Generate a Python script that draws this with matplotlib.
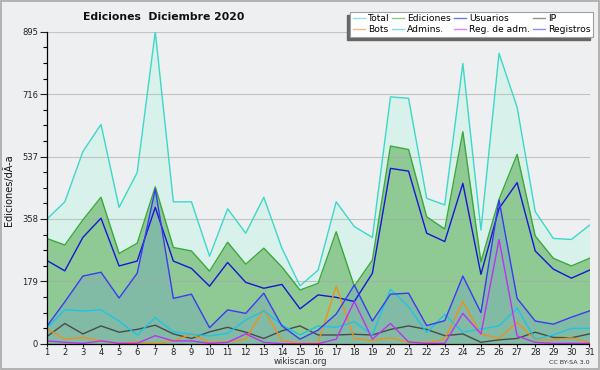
#!/usr/bin/env python3

import numpy as np
import matplotlib
matplotlib.use('Agg')
import matplotlib.pyplot as plt
from matplotlib.patches import Rectangle

#------------------------------------------------------------------------
# values, one per day of december 2020

days = list(range(1, 32))
total = [357, 407, 551, 629, 391, 491, 895, 407, 407, 251, 387, 317, 420, 274, 166, 211,
         407, 336, 305, 708, 704, 417, 398, 804, 326, 833, 678, 379, 302, 299, 340]
ediciones = [302, 283, 355, 420, 259, 288, 450, 276, 266, 208, 291, 228, 274, 220, 154, 173,
             321, 165, 240, 567, 557, 364, 329, 608, 235, 414, 543, 309, 245, 223, 245]
usuarios = [239, 209, 305, 360, 223, 237, 391, 237, 216, 165, 233, 176, 159, 170, 100, 140,
            133, 121, 202, 503, 495, 317, 293, 460, 199, 388, 462, 266, 214, 188, 211]
ip = [20, 58, 28, 51, 33, 41, 53, 28, 15, 34, 47, 33, 15, 37, 51, 25,
      25, 27, 25, 41, 51, 41, 23, 28, 4, 11, 15, 33, 18, 17, 28]
bots = [44, 13, 18, 8, 1, 5, 1, 8, 27, 4, 5, 13, 99, 8, 2, 2,
        165, 15, 9, 17, 4, 3, 13, 121, 28, 15, 61, 11, 11, 17, 3]
admins = [44, 97, 94, 97, 65, 25, 75, 34, 27, 22, 30, 68, 94, 54, 25, 51,
          47, 63, 25, 156, 106, 32, 84, 33, 42, 51, 102, 13, 25, 44, 44]
reg_adm = [8, 4, 1, 8, 1, 1, 23, 8, 8, 1, 4, 28, 4, 0, 0, 0,
           13, 121, 13, 58, 5, 1, 1, 87, 28, 299, 22, 4, 1, 1, 1]
registros = [49, 120, 194, 205, 131, 202, 443, 130, 142, 46, 97, 87, 145, 51, 13, 39,
             85, 168, 65, 142, 145, 52, 66, 194, 89, 412, 130, 65, 56, 76, 94]

y_major = [0, 179, 358, 537, 716, 895]

#------------------------------------------------------------------------

bg = '#eeeff1'
W, H = 600, 370

fig = plt.figure(figsize=(W / 100, H / 100), dpi=100, facecolor=bg)
ax = fig.add_axes([46.7 / W, 1 - 343.7 / H, (589.5 - 46.7) / W, (343.7 - 31.7) / H])
ax.set_facecolor(bg)

# filled areas
ax.fill_between(days, 0, total, color='#d8f1ea', lw=0, zorder=1)
ax.fill_between(days, 0, ediciones, color='#8fca95', lw=0, zorder=1.1)
ax.fill_between(days, 0, registros, color='#5b92d5', alpha=0.25, lw=0, zorder=1.2)

lw = 1.0
l_total, = ax.plot(days, total, color='#3cd8c8', lw=lw, zorder=3, label='Total')
l_edic, = ax.plot(days, ediciones, color='#3aa83a', lw=lw, zorder=3, label='Ediciones')
l_usu, = ax.plot(days, usuarios, color='#1616d8', lw=lw, zorder=3, label='Usuarios')
l_ip, = ax.plot(days, ip, color='#4a4a4a', lw=lw, zorder=3, label='IP')
l_bots, = ax.plot(days, bots, color='#f0901c', lw=lw, zorder=3, label='Bots')
l_adm, = ax.plot(days, admins, color='#1ec4e8', lw=lw, zorder=3, label='Admins.')
l_reg, = ax.plot(days, reg_adm, color='#c030f0', lw=lw, zorder=3, label='Reg. de adm.')
l_logs, = ax.plot(days, registros, color='#3a3af4', lw=lw, zorder=3.1, label='Registros')

ax.set_xlim(1, 31)
ax.set_ylim(0, 895)
ax.set_xticks(days)
ax.set_yticks(y_major)
ax.set_yticks(np.arange(0, 895, 179 / 4), minor=True)
ax.tick_params(axis='both', labelsize=6, colors='#222222', pad=1.2)
ax.tick_params(axis='y', which='major', length=5, width=0.8)
ax.tick_params(axis='y', which='minor', length=3, width=0.8)
ax.tick_params(axis='x', length=2.2, width=0.8, pad=0.6)
ax.yaxis.grid(True, which='major', color='#a8a8a8', alpha=0.6, lw=0.8, zorder=2)
ax.set_axisbelow(False)
for side in ('top', 'right'):
    ax.spines[side].set_visible(False)
for side in ('left', 'bottom'):
    ax.spines[side].set_linewidth(0.9)
    ax.spines[side].set_zorder(4)

fig.text(164 / W, 1 - 16.5 / H, 'Ediciones  Diciembre 2020', ha='center', va='center',
         fontsize=7.8, fontweight='bold', color='#111111')
fig.text(9 / W, 1 - 190 / H, 'Ediciones/dÃ-a', rotation=90, ha='center', va='center',
         fontsize=7, color='#111111')
fig.text(300 / W, 1 - 362 / H, 'wikiscan.org', ha='center', va='center',
         fontsize=6.2, color='#333333')
fig.text(590 / W, 1 - 362.5 / H, 'CC BY-SA 3.0', ha='right', va='center',
         fontsize=4.6, color='#333333')

handles = [l_total, l_bots, l_edic, l_adm, l_usu, l_reg, l_ip, l_logs]
leg = fig.legend(handles=handles, ncol=4, loc='upper right',
                 bbox_to_anchor=(593 / W, 1 - 11.7 / H), borderaxespad=0,
                 prop={'size': 6.6}, fancybox=False, framealpha=1,
                 edgecolor='#a0a0a0', facecolor='white',
                 handlelength=1.3, handletextpad=0.35, columnspacing=0.3,
                 labelspacing=0.15, borderpad=0.3)
leg.get_frame().set_linewidth(0.8)
for h in leg.get_lines():
    h.set_alpha(0.6)

# legend shadow, offset to the lower left
fig.canvas.draw()
bb = leg.get_window_extent().transformed(fig.transFigure.inverted())
fig.patches.append(Rectangle((bb.x0 - 3 / W, bb.y0 - 3 / H), bb.width, bb.height,
                             transform=fig.transFigure, color='#666666', zorder=0.5))
leg.set_zorder(5)

# outer border of the picture
fig.patches.append(Rectangle((0.5 / W, 1.5 / H), 598 / W, 367.5 / H, transform=fig.transFigure,
                             fill=False, edgecolor='#a8a8a8', lw=1.2, zorder=0))

fig.savefig('out.png', dpi=100, facecolor=bg)
